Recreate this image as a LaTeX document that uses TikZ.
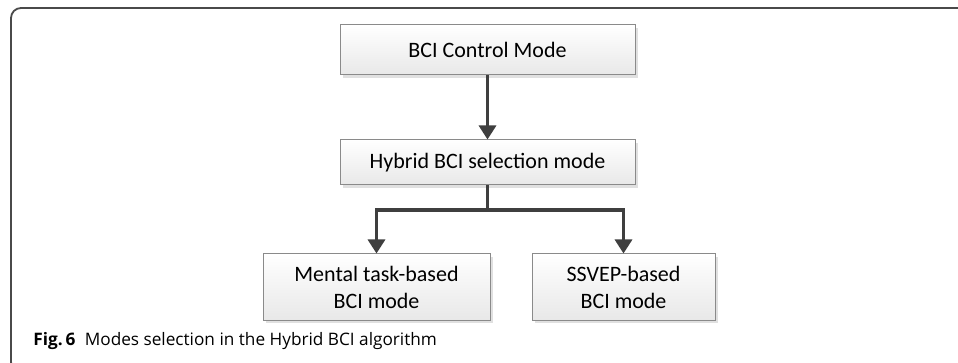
\documentclass[tikz,border=0pt]{standalone}
\usepackage{fontspec}
\setmainfont{Carlito}
\newfontfamily\capfont{Open Sans}
\usepackage{tikz}
\usetikzlibrary{arrows.meta,shadows}
\definecolor{boxline}{HTML}{8A8A8A}
\definecolor{arrowcol}{HTML}{3F3F3F}
\definecolor{framecol}{HTML}{4A4A4A}

\tikzset{
  modebox/.style={draw=boxline, line width=0.5pt, top color=white, bottom color=black!9,
    drop shadow={shadow xshift=1.5pt, shadow yshift=-1.5pt, fill=black!12, opacity=1},
    align=center, font=\fontsize{11}{13.5}\selectfont, inner sep=0pt},
  flow/.style={draw=arrowcol, line width=1.6pt, -{Triangle[width=8.5pt,length=7pt]}},
  link/.style={draw=arrowcol, line width=1.6pt}
}

\begin{document}
\begin{tikzpicture}[x=0.5pt, y=-0.5pt]
    \useasboundingbox (0,0) rectangle (958,363);
    \clip (0,0) rectangle (958,363);

    % outer frame
    \draw[framecol, line width=0.9pt] (30,372) [rounded corners=5pt] -- (11,372) -- (11,8) -- (975,8);

    \node [modebox, minimum width=147.5pt, minimum height=25pt] (ctrl) at (487.5,50) {BCI Control Mode};
    \node [modebox, minimum width=147.5pt, minimum height=22.5pt] (hybrid) at (487.5,162.5) {Hybrid BCI selection mode};
    \node [modebox, minimum width=113.5pt, minimum height=33pt] (mental) at (376.5,287) {Mental task-based\\BCI mode};
    \node [modebox, minimum width=91.5pt, minimum height=33pt] (ssvep) at (623.5,287) {SSVEP-based\\BCI mode};
    \coordinate (split) at (487.5,210);

    \draw[flow] (ctrl) -- (hybrid);
    \draw[link] (hybrid) -- (split);
    \draw[flow] (split) -| (mental);
    \draw[flow] (split) -| (ssvep);

    \node [anchor=base west, inner sep=0pt, font=\capfont\fontsize{8.6}{11}\selectfont] (caption) at (33,345)
      {\textbf{Fig.\,6}\hspace{0.55em}Modes selection in the Hybrid BCI algorithm};
\end{tikzpicture}
\end{document}
